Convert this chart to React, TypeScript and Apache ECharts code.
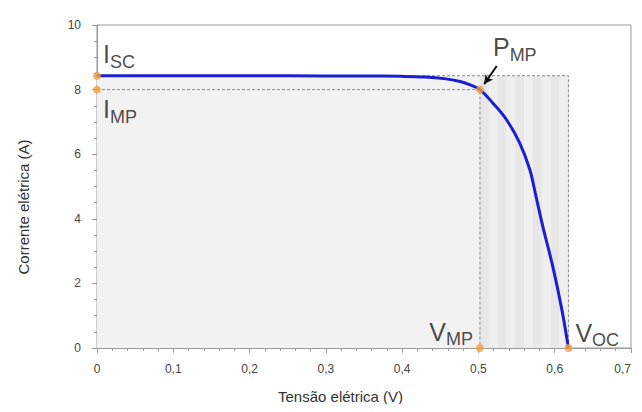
import React, { useEffect, useRef } from "react";
import * as echarts from "echarts";

// I-V curve
const voltage = [0, 0.1, 0.2, 0.3, 0.35, 0.4, 0.43, 0.455, 0.476, 0.49, 0.502, 0.519, 0.537, 0.554, 0.5675, 0.5754, 0.5845, 0.5976, 0.6094, 0.618];
const current = [8.43, 8.43, 8.43, 8.42, 8.42, 8.41, 8.39, 8.34, 8.25, 8.14, 8.0, 7.58, 7.06, 6.35, 5.51, 4.7, 3.75, 2.51, 1.18, 0];

const ISC = 8.43;
const IMP = 8.0;
const VMP = 0.502;
const VOC = 0.618;

const xTickLabels = ["0", "0,1", "0,2", "0,3", "0,4", "0,5", "0,6", "0,7"];
const yTickLabels = ["0", "2", "4", "6", "8", "10"];
const xTitle = "Tensão elétrica (V)";
const yTitle = "Corrente elétrica (A)";

const STRIPES = 10;

export default function App() {
  const ref = useRef<HTMLDivElement>(null);
  useEffect(() => {
    if (!ref.current) return;
    const chart = echarts.init(ref.current, undefined, { renderer: "svg" });
    const font = "Liberation Sans, Arial, sans-serif";
    const stripeW = (VOC - VMP) / STRIPES;
    const stripes: any[] = [];
    for (let i = 0; i < STRIPES; i++) {
      stripes.push([
        { xAxis: VMP + i * stripeW, yAxis: 0, itemStyle: { color: i % 2 === 0 ? "#e7e7e7" : "#efefef" } },
        { xAxis: VMP + (i + 1) * stripeW, yAxis: ISC },
      ]);
    }
    const rich = {
      a: { fontSize: 25, fontFamily: font, color: "#1a1a1a", lineHeight: 28, verticalAlign: "bottom" },
      b: { fontSize: 18, fontFamily: font, color: "#1a1a1a", lineHeight: 16, verticalAlign: "bottom", padding: [0, 0, -4, 0] },
    };
    const pt = (x: number, y: number, main: string, sub: string, position: number[], align: string) => ({
      value: [x, y],
      label: {
        show: true,
        formatter: `{a|${main}}{b|${sub}}`,
        position,
        align,
        verticalAlign: "bottom",
        rich,
      },
    });
    const dashed = { color: "#8a8a8a", width: 1, type: [3, 2] };
    chart.setOption({
      animation: false,
      textStyle: { fontFamily: font },
      title: {
        text: xTitle,
        left: 278,
        top: 389,
        padding: 0,
        textStyle: { fontSize: 15, fontWeight: "normal", color: "#333", fontFamily: font },
      },
      grid: { left: 97, right: 11, top: 25, bottom: 64, show: true, borderColor: "#9a9a9a", borderWidth: 1, backgroundColor: "transparent" },
      graphic: [
        {
          type: "text",
          x: 23,
          y: 207,
          rotation: Math.PI / 2,
          style: {
            text: yTitle, fontSize: 15, fill: "#333", fontFamily: font,
            align: "center", verticalAlign: "middle",
          },
        },
      ],
      xAxis: {
        type: "value",
        min: 0,
        max: 0.7,
        interval: 0.1,
        axisLine: { show: true, lineStyle: { color: "#9a9a9a" } },
        axisTick: { show: true, length: 5, lineStyle: { color: "#9a9a9a" } },
        minorTick: { show: true, splitNumber: 5, length: 3, lineStyle: { color: "#9a9a9a" } },
        splitLine: { show: false },
        axisLabel: {
          fontSize: 12,
          color: "#444",
          margin: 15,
          alignMaxLabel: "right",
          formatter: (v: number) => xTickLabels[Math.round(v * 10)] ?? "",
        },
      },
      yAxis: {
        type: "value",
        min: 0,
        max: 10,
        interval: 2,
        axisLine: { show: true, lineStyle: { color: "#9a9a9a" } },
        axisTick: { show: true, length: 5, lineStyle: { color: "#9a9a9a" } },
        minorTick: { show: true, splitNumber: 4, length: 3, lineStyle: { color: "#9a9a9a" } },
        splitLine: { show: false },
        axisLabel: {
          fontSize: 12,
          color: "#444",
          margin: 16,
          formatter: (v: number) => yTickLabels[Math.round(v / 2)] ?? "",
        },
      },
      series: [
        {
          type: "line",
          data: [],
          silent: true,
          markArea: {
            silent: true,
            data: [
              [{ xAxis: 0, yAxis: 0, itemStyle: { color: "#f2f2f2" } }, { xAxis: VOC, yAxis: ISC }],
              ...stripes,
            ],
          },
        },
        {
          type: "line",
          data: [[0, ISC], [VOC, ISC], [VOC, 0]],
          symbol: "none",
          lineStyle: dashed,
          silent: true,
        },
        {
          type: "line",
          data: [[0, IMP], [VMP, IMP], [VMP, 0]],
          symbol: "none",
          lineStyle: dashed,
          silent: true,
        },
        {
          type: "line",
          data: voltage.map((v, i) => [v, current[i]]),
          symbol: "none",
          smooth: 0.35,
          lineStyle: { color: "#1d1dd2", width: 3 },
          silent: true,
          markLine: {
            silent: true,
            symbol: ["none", "arrow"],
            symbolSize: [7, 9],
            label: { show: false },
            lineStyle: { color: "#111", width: 2, type: "solid" },
            data: [[{ coord: [0.524, 8.73] }, { coord: [0.5075, 8.17] }]],
          },
        },
        {
          type: "scatter",
          symbol: "circle",
          symbolSize: 8,
          itemStyle: { color: "#f0a040" },
          silent: true,
          z: 5,
          data: [
            pt(0, ISC, "I", "SC", [10, -5], "left"),
            pt(0, IMP, "I", "MP", [10, 36], "left"),
            pt(VMP, IMP, "P", "MP", [17, -26], "left"),
            pt(VMP, 0, "V", "MP", [-3, 0], "right"),
            pt(VOC, 0, "V", "OC", [11, 1], "left"),
          ],
        },
      ],
    });
    return () => chart.dispose();
  }, []);
  return <div ref={ref} style={{ width: 642, height: 412, margin: -8 }} />;
}
